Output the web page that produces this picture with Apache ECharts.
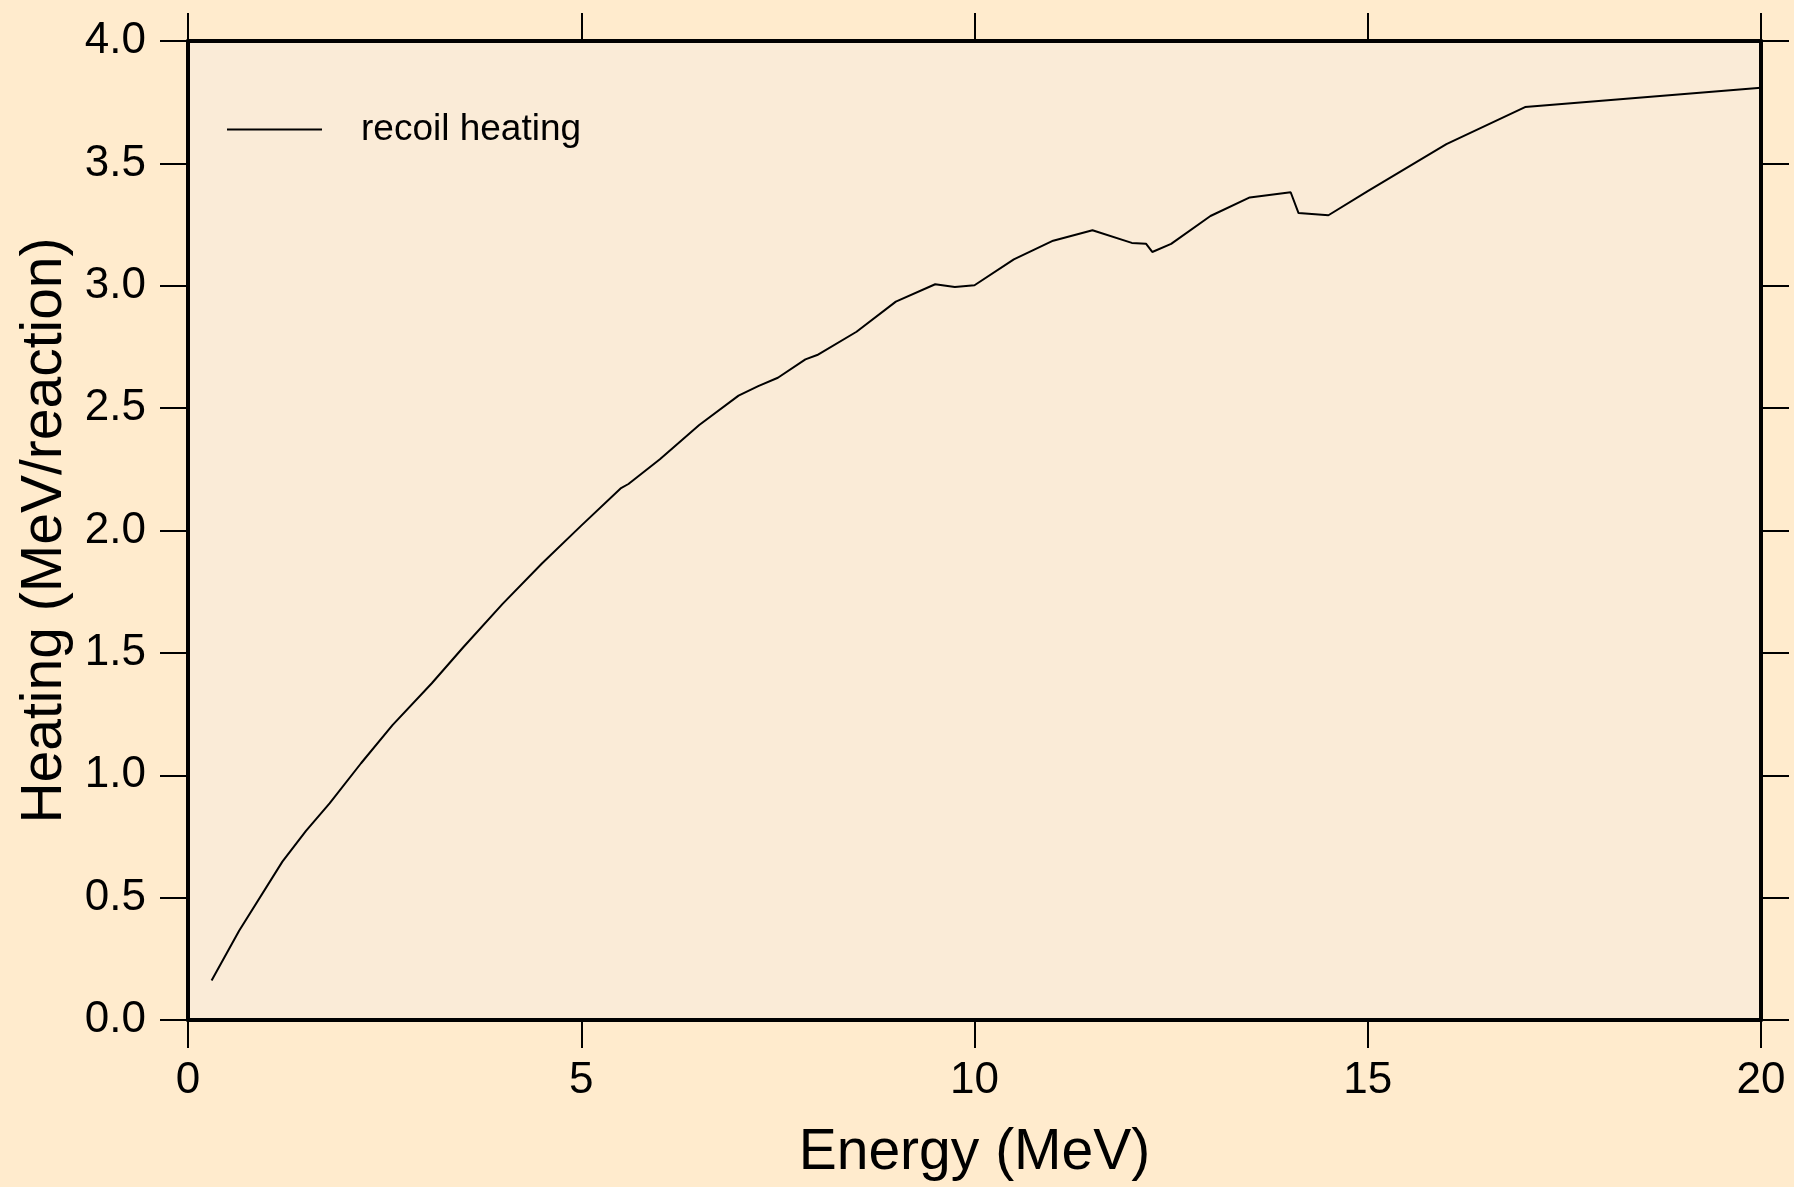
<!DOCTYPE html>
<html>
<head>
<meta charset="utf-8">
<title>recoil heating</title>
<script src="https://cdn.jsdelivr.net/npm/echarts@6/dist/echarts.min.js"></script>
<style>
  html, body { margin: 0; padding: 0; background: #FFEBCD; }
  #main { width: 1794px; height: 1187px; }
</style>
</head>
<body>
<div id="main"></div>
<script>
// 能量 (MeV)
const energy = [0.3, 0.65, 1.2, 1.5, 1.8, 2.2, 2.6, 3.1, 3.5, 4.0, 4.5, 5.0, 5.5, 5.6, 6.0, 6.5, 7.0, 7.25, 7.5, 7.85, 8.0,
  8.5, 9.0, 9.5, 9.75, 10.0, 10.5, 11.0, 11.5, 12.0, 12.18, 12.26, 12.5, 13.0, 13.5, 14.02, 14.12, 14.5, 15.0, 16.0, 17.0, 20.0]
// heating (MeV/reaction)
const heating = [0.161, 0.365, 0.647, 0.773, 0.885, 1.049, 1.205, 1.376, 1.523, 1.70, 1.865, 2.020, 2.172, 2.190, 2.291, 2.431, 2.551, 2.590, 2.624, 2.699, 2.717,
  2.812, 2.935, 3.006, 2.995, 3.002, 3.108, 3.184, 3.227, 3.175, 3.172, 3.138, 3.171, 3.285, 3.361, 3.382, 3.297, 3.288, 3.387, 3.579, 3.730, 3.809]
const seriesName = 'recoil heating'

const FONT = '"Liberation Sans", Arial, Helvetica, sans-serif'

function axisBase(extra) {
  let a = {
    type: 'value',
    axisLine: { show: true, onZero: false, lineStyle: { color: '#000', width: 4 } },
    axisTick: { show: true, inside: false, length: 28, lineStyle: { color: '#000', width: 2 } },
    splitLine: { show: false },
    axisLabel: { show: false }
  }
  return Object.assign(a, extra)
}

function setOption(chart) {
  let points = energy.map((e, i) => [e, heating[i]])
  const option = {
    animation: false,
    backgroundColor: '#FFEBCD',
    grid: {
      left: 188, right: 33, top: 41, bottom: 167,
      show: true, backgroundColor: '#FAEBD7', borderWidth: 0
    },
    legend: {
      left: 221, top: 106,
      itemWidth: 95, itemHeight: 20,
      data: [seriesName],
      // 图例只显示线，不显示圆点
      itemStyle: { opacity: 0 },
      lineStyle: { color: '#000', width: 2 },
      textStyle: { color: '#000', fontSize: 37, fontFamily: FONT, padding: [0, 0, 0, 34] }
    },
    xAxis: [
      axisBase({
        position: 'bottom', min: 0, max: 20, interval: 5,
        name: 'Energy (MeV)', nameLocation: 'middle', nameGap: 105,
        nameTextStyle: { color: '#000', fontSize: 57, fontFamily: FONT },
        axisLabel: { show: true, color: '#000', fontSize: 44, fontFamily: FONT, margin: 39 }
      }),
      axisBase({ position: 'top', min: 0, max: 20, interval: 5 })
    ],
    yAxis: [
      axisBase({
        position: 'left', min: 0, max: 4, interval: 0.5,
        name: 'Heating (MeV/reaction)', nameLocation: 'middle', nameGap: 114,
        nameTextStyle: { color: '#000', fontSize: 57, fontFamily: FONT },
        axisLabel: {
          show: true, color: '#000', fontSize: 44, fontFamily: FONT, margin: 42,
          formatter: v => v.toFixed(1)
        }
      }),
      axisBase({ position: 'right', min: 0, max: 4, interval: 0.5 })
    ],
    series: [{
      name: seriesName,
      type: 'line',
      xAxisIndex: 0,
      yAxisIndex: 0,
      symbol: 'none',
      color: '#000',
      lineStyle: { color: '#000', width: 2 },
      data: points
    }]
  }
  chart.setOption(option)
}

let chart = echarts.init(document.getElementById('main'), null, { renderer: 'canvas' })
setOption(chart)
</script>
</body>
</html>
